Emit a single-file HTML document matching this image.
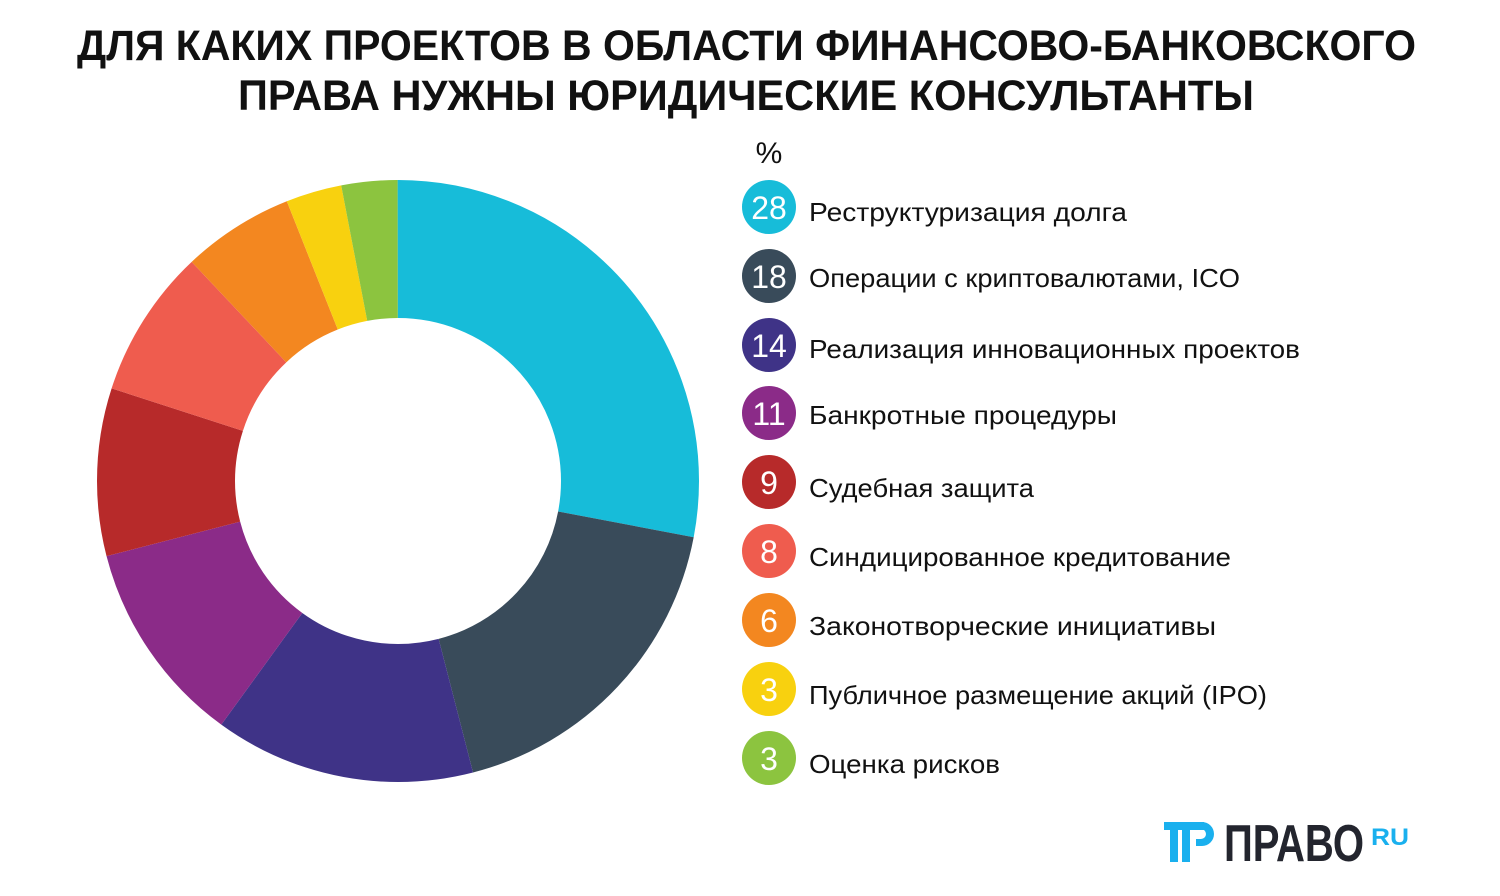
<!DOCTYPE html>
<html><head><meta charset="utf-8"><style>
html,body{margin:0;padding:0;background:#fff;}
svg{display:block;font-family:"Liberation Sans",sans-serif;}
</style></head><body>
<svg width="1500" height="896" viewBox="0 0 1500 896" xmlns="http://www.w3.org/2000/svg">
<rect width="1500" height="896" fill="#fff"/>
<g font-weight="bold" font-size="43" fill="#111" text-anchor="start">
<text x="77" y="60" textLength="1339" lengthAdjust="spacingAndGlyphs">ДЛЯ КАКИХ ПРОЕКТОВ В ОБЛАСТИ ФИНАНСОВО-БАНКОВСКОГО</text>
<text x="238" y="110" textLength="1016" lengthAdjust="spacingAndGlyphs">ПРАВА НУЖНЫ ЮРИДИЧЕСКИЕ КОНСУЛЬТАНТЫ</text>
</g>
<g transform="rotate(-90 398 481)" fill="none" stroke-width="138">
<circle cx="398" cy="481" r="232" pathLength="100" stroke="#17bcd9" stroke-dasharray="28 72" stroke-dashoffset="0"/>
<circle cx="398" cy="481" r="232" pathLength="100" stroke="#394b5a" stroke-dasharray="18 82" stroke-dashoffset="-28"/>
<circle cx="398" cy="481" r="232" pathLength="100" stroke="#3f3387" stroke-dasharray="14 86" stroke-dashoffset="-46"/>
<circle cx="398" cy="481" r="232" pathLength="100" stroke="#8b2b88" stroke-dasharray="11 89" stroke-dashoffset="-60"/>
<circle cx="398" cy="481" r="232" pathLength="100" stroke="#b72a2a" stroke-dasharray="9 91" stroke-dashoffset="-71"/>
<circle cx="398" cy="481" r="232" pathLength="100" stroke="#ef5c4e" stroke-dasharray="8 92" stroke-dashoffset="-80"/>
<circle cx="398" cy="481" r="232" pathLength="100" stroke="#f38720" stroke-dasharray="6 94" stroke-dashoffset="-88"/>
<circle cx="398" cy="481" r="232" pathLength="100" stroke="#f8d10f" stroke-dasharray="3 97" stroke-dashoffset="-94"/>
<circle cx="398" cy="481" r="232" pathLength="100" stroke="#8cc43f" stroke-dasharray="3 97" stroke-dashoffset="-97"/>
</g>
<text x="769" y="163" font-size="30" text-anchor="middle" fill="#111">%</text>
<g font-size="32" fill="#fff" text-anchor="middle">
<circle cx="769" cy="207" r="27" fill="#17bcd9"/><text x="769" y="219">28</text>
<circle cx="769" cy="276" r="27" fill="#394b5a"/><text x="769" y="288">18</text>
<circle cx="769" cy="345" r="27" fill="#3f3387"/><text x="769" y="357">14</text>
<circle cx="769" cy="413" r="27" fill="#8b2b88"/><text x="769" y="425">11</text>
<circle cx="769" cy="482" r="27" fill="#b72a2a"/><text x="769" y="494">9</text>
<circle cx="769" cy="551" r="27" fill="#ef5c4e"/><text x="769" y="563">8</text>
<circle cx="769" cy="620" r="27" fill="#f38720"/><text x="769" y="632">6</text>
<circle cx="769" cy="689" r="27" fill="#f8d10f"/><text x="769" y="701">3</text>
<circle cx="769" cy="758" r="27" fill="#8cc43f"/><text x="769" y="770">3</text>
</g>
<g font-size="26" fill="#111">
<text x="809" y="221" textLength="318" lengthAdjust="spacingAndGlyphs">Реструктуризация долга</text>
<text x="809" y="287" textLength="431" lengthAdjust="spacingAndGlyphs">Операции с криптовалютами, ICO</text>
<text x="809" y="358" textLength="491" lengthAdjust="spacingAndGlyphs">Реализация инновационных проектов</text>
<text x="809" y="424" textLength="308" lengthAdjust="spacingAndGlyphs">Банкротные процедуры</text>
<text x="809" y="497" textLength="225" lengthAdjust="spacingAndGlyphs">Судебная защита</text>
<text x="809" y="566" textLength="422" lengthAdjust="spacingAndGlyphs">Синдицированное кредитование</text>
<text x="809" y="635" textLength="407" lengthAdjust="spacingAndGlyphs">Законотворческие инициативы</text>
<text x="809" y="704" textLength="458" lengthAdjust="spacingAndGlyphs">Публичное размещение акций (IPO)</text>
<text x="809" y="773" textLength="191" lengthAdjust="spacingAndGlyphs">Оценка рисков</text>
</g>
<g fill="#1ab0ee">
<rect x="1164" y="822" width="40" height="8"/>
<rect x="1170" y="830" width="8" height="32"/>
<rect x="1182" y="830" width="8" height="32"/>
<path d="M1196 822 h6 a12 12 0 0 1 0 24 h-6 v-7 h5 a5 5 0 0 0 0 -10 h-5 z"/>
</g>
<text x="1224" y="861" font-size="52" font-weight="bold" fill="#23252e" textLength="140" lengthAdjust="spacingAndGlyphs">ПРАВО</text>
<text x="1371" y="845" font-size="24" font-weight="bold" fill="#1ab0ee" textLength="38" lengthAdjust="spacingAndGlyphs">RU</text>
</svg>
</body></html>
